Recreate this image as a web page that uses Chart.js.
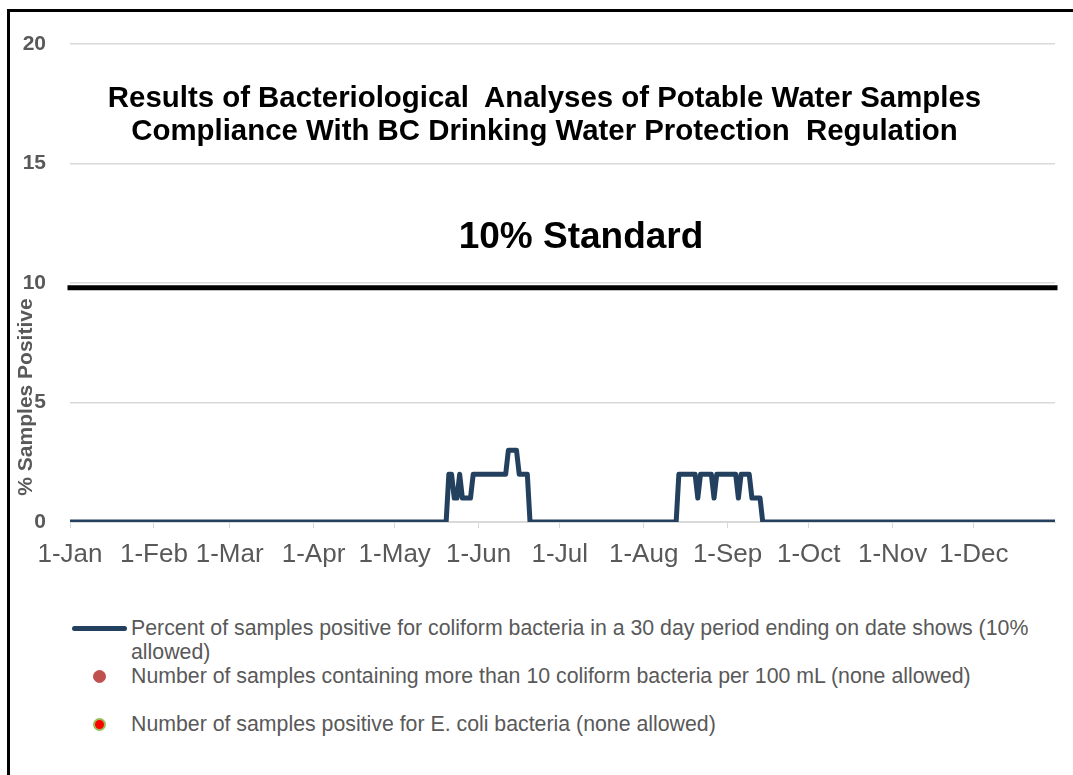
<!DOCTYPE html>
<html lang="en">
<head>
    <meta charset="UTF-8">
    <title>Results of Bacteriological Analyses of Potable Water Samples</title>
    <script src="https://cdn.jsdelivr.net/npm/chart.js"></script>
</head>
<style>
    * {
        font-family: 'Liberation Sans', Arial, sans-serif;
    }
    html, body {
        margin: 0;
        background: #fff;
        overflow: hidden;
    }
    body {
        width: 1073px;
        height: 775px;
        position: relative;
    }
    .frame-top {
        position: absolute;
        left: 7px;
        top: 9px;
        width: 1066px;
        height: 3px;
        background: #000;
    }
    .frame-left {
        position: absolute;
        left: 7px;
        top: 9px;
        width: 3px;
        height: 766px;
        background: #000;
    }
    .chart-box {
        position: absolute;
        left: 0;
        top: 0;
        width: 1073px;
        height: 580px;
    }
    .title {
        position: absolute;
        left: 0;
        top: 80px;
        width: 1089px;
        text-align: center;
        font-weight: bold;
        font-size: 29.4px;
        line-height: 33px;
        white-space: pre;
        color: #000;
    }
    .standard {
        position: absolute;
        left: 381px;
        top: 216px;
        width: 400px;
        text-align: center;
        font-weight: bold;
        font-size: 37px;
        line-height: 40px;
        color: #000;
    }
    .y-title {
        position: absolute;
        left: -125px;
        top: 385px;
        width: 300px;
        height: 24px;
        line-height: 24px;
        text-align: center;
        font-weight: bold;
        font-size: 21px;
        color: #595959;
        transform: rotate(-90deg);
    }
    #legend {
        position: absolute;
        left: 70px;
        top: 616px;
        width: 970px;
    }
    .legend-item {
        position: relative;
        min-height: 48px;
        padding-left: 61px;
        font-size: 21.3px;
        line-height: 24px;
        color: #595959;
    }
    .sw-line {
        position: absolute;
        left: 2px;
        top: 10px;
        width: 55px;
        height: 5px;
        border-radius: 3px;
    }
    .sw-dot {
        position: absolute;
        left: 23px;
        top: 6px;
        width: 13px;
        height: 13px;
        border-radius: 50%;
        box-sizing: border-box;
    }
</style>
<body>
    <div class="frame-top"></div>
    <div class="frame-left"></div>
    <div class="chart-box"><canvas id="waterChart"></canvas></div>
    <div class="title">Results of Bacteriological  Analyses of Potable Water Samples
Compliance With BC Drinking Water Protection  Regulation</div>
    <div class="standard">10% Standard</div>
    <div class="y-title">% Samples Positive</div>
    <div id="legend"></div>

    <script>
        // x axis: day of year (0 = 1-Jan), ticks on the first of each month
        const monthStartDays = [0, 31, 59, 90, 120, 151, 181, 212, 243, 273, 304, 334];
        const monthLabels = ['1-Jan', '1-Feb', '1-Mar', '1-Apr', '1-May', '1-Jun', '1-Jul', '1-Aug', '1-Sep', '1-Oct', '1-Nov', '1-Dec'];
        const yTicks = [0, 5, 10, 15, 20];

        // % of samples positive for coliform, 30 day period, one value per day
        const pctJan = [0,0,0,0,0,0,0,0,0,0, 0,0,0,0,0,0,0,0,0,0, 0,0,0,0,0,0,0,0,0,0, 0];
        const pctFeb = [0,0,0,0,0,0,0,0,0,0, 0,0,0,0,0,0,0,0,0,0, 0,0,0,0,0,0,0,0];
        const pctMar = [0,0,0,0,0,0,0,0,0,0, 0,0,0,0,0,0,0,0,0,0, 0,0,0,0,0,0,0,0,0,0, 0];
        const pctApr = [0,0,0,0,0,0,0,0,0,0, 0,0,0,0,0,0,0,0,0,0, 0,0,0,0,0,0,0,0,0,0];
        const pctMay = [0,0,0,0,0,0,0,0,0,0, 0,0,0,0,0,0,0,0,0,0, 2,2,1,1,2,1,1,1,1,2, 2];
        const pctJun = [2,2,2,2,2,2,2,2,2,2, 2,3,3,3,3,2,2,2,2,0, 0,0,0,0,0,0,0,0,0,0];
        const pctJul = [0,0,0,0,0,0,0,0,0,0, 0,0,0,0,0,0,0,0,0,0, 0,0,0,0,0,0,0,0,0,0, 0];
        const pctAug = [0,0,0,0,0,0,0,0,0,0, 0,0,0,2,2,2,2,2,2,2, 1,2,2,2,2,2,1,2,2,2, 2];
        const pctSep = [2,2,2,2,1,2,2,2,2,1, 1,1,1,0,0,0,0,0,0,0, 0,0,0,0,0,0,0,0,0,0];
        const pctOct = [0,0,0,0,0,0,0,0,0,0, 0,0,0,0,0,0,0,0,0,0, 0,0,0,0,0,0,0,0,0,0, 0];
        const pctNov = [0,0,0,0,0,0,0,0,0,0, 0,0,0,0,0,0,0,0,0,0, 0,0,0,0,0,0,0,0,0,0];
        const pctDec = [0,0,0,0,0,0,0,0,0,0, 0,0,0,0,0,0,0,0,0,0, 0,0,0,0,0,0,0,0,0,0, 0];

        // no samples in these two series
        const over10Counts = [];
        const eColiCounts = [];

        const standardLevel = 9.8;

        const pctDaily = [].concat(pctJan, pctFeb, pctMar, pctApr, pctMay, pctJun,
            pctJul, pctAug, pctSep, pctOct, pctNov, pctDec);
        const lastDay = pctDaily.length - 1;

        Chart.defaults.font.family = "'Liberation Sans', Arial, sans-serif";

        const ctx = document.getElementById('waterChart').getContext('2d');
        const chart = new Chart(ctx, {
            type: 'line',
            data: {
                datasets: [
                    {
                        label: 'Percent of samples positive for coliform bacteria in a 30 day period ending on date shows (10% allowed)',
                        data: pctDaily.map((v, i) => ({ x: i, y: v })),
                        borderColor: '#24405F',
                        backgroundColor: '#24405F',
                        borderWidth: 5,
                        borderJoinStyle: 'round',
                        borderCapStyle: 'round',
                        pointRadius: 0,
                        tension: 0
                    },
                    {
                        type: 'scatter',
                        label: 'Number of samples containing more than 10 coliform bacteria per 100 mL (none allowed)',
                        data: over10Counts,
                        pointBackgroundColor: '#C0504D',
                        pointBorderColor: '#C0504D',
                        pointRadius: 6
                    },
                    {
                        type: 'scatter',
                        label: 'Number of samples positive for E. coli bacteria (none allowed)',
                        data: eColiCounts,
                        pointBackgroundColor: '#FF0000',
                        pointBorderColor: '#9BBB59',
                        pointBorderWidth: 2,
                        pointRadius: 6
                    },
                    {
                        label: '10% Standard',
                        hideInLegend: true,
                        data: [{ x: 0, y: standardLevel }, { x: lastDay, y: standardLevel }],
                        borderColor: '#000',
                        borderWidth: 5,
                        borderCapStyle: 'square',
                        clip: false,
                        pointRadius: 0
                    }
                ]
            },
            options: {
                responsive: true,
                maintainAspectRatio: false,
                animation: false,
                layout: {
                    padding: { top: 44, right: 18, left: 0, bottom: 0 }
                },
                plugins: {
                    legend: { display: false },
                    tooltip: { enabled: false }
                },
                scales: {
                    x: {
                        type: 'linear',
                        min: 0,
                        max: lastDay,
                        afterBuildTicks: s => { s.ticks = monthStartDays.map(d => ({ value: d })); },
                        afterFit: s => { s.height = 58; },
                        ticks: {
                            autoSkip: false,
                            maxRotation: 0,
                            padding: 11,
                            color: '#595959',
                            font: { size: 26 },
                            callback: (v, i) => monthLabels[i]
                        },
                        grid: {
                            drawOnChartArea: false,
                            color: '#d9d9d9',
                            tickLength: 6
                        },
                        border: { color: '#d9d9d9' }
                    },
                    y: {
                        min: 0,
                        max: 20,
                        afterBuildTicks: s => { s.ticks = yTicks.map(v => ({ value: v })); },
                        afterFit: s => { s.width = 70; },
                        ticks: {
                            padding: 24,
                            color: '#595959',
                            font: { size: 21, weight: 'bold' }
                        },
                        grid: {
                            color: '#d9d9d9',
                            lineWidth: 1.5,
                            drawTicks: false
                        },
                        border: { display: false }
                    }
                }
            }
        });

        // legend built from the datasets, wraps like the original
        function buildLegend(c) {
            const box = document.getElementById('legend');
            box.innerHTML = '';
            c.data.datasets.forEach(ds => {
                if (ds.hideInLegend) return;
                const item = document.createElement('div');
                item.className = 'legend-item';
                const sw = document.createElement('span');
                if (ds.type === 'scatter') {
                    sw.className = 'sw-dot';
                    sw.style.background = ds.pointBackgroundColor;
                    sw.style.border = (ds.pointBorderWidth || 1) + 'px solid ' + ds.pointBorderColor;
                } else {
                    sw.className = 'sw-line';
                    sw.style.background = ds.borderColor;
                }
                item.appendChild(sw);
                item.appendChild(document.createTextNode(ds.label));
                box.appendChild(item);
            });
        }
        buildLegend(chart);
    </script>
</body>
</html>
